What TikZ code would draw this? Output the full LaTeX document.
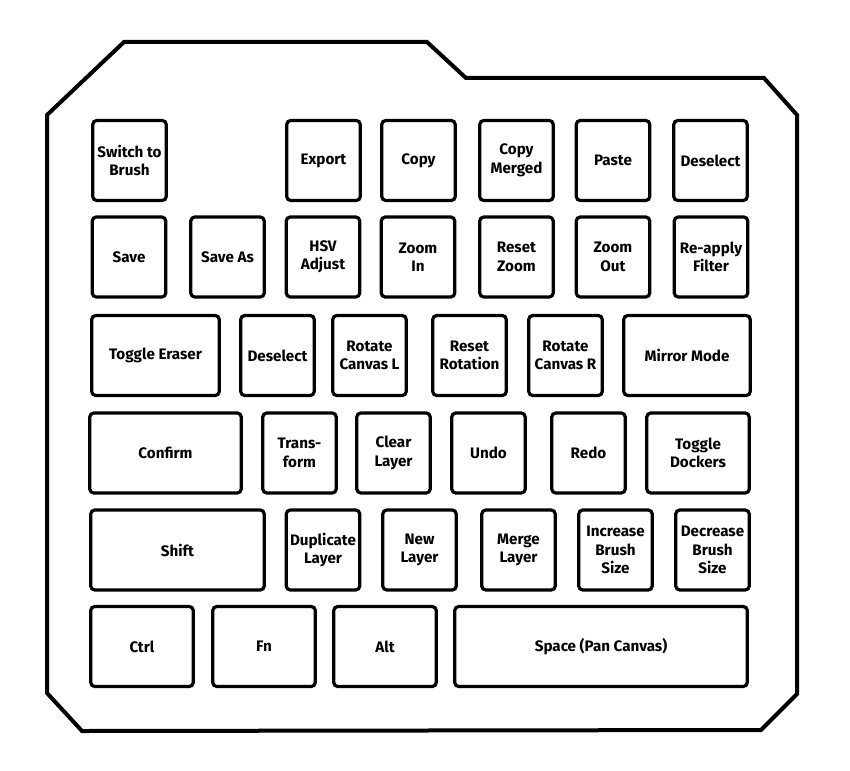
\documentclass[tikz,border=0pt]{standalone}
\usepackage{fontspec}
\setmainfont{Fira Sans}
\usepackage{tikz}
\usetikzlibrary{positioning}

\begin{document}
\begin{tikzpicture}[
  x=1pt, y=-1pt,
  font=\fontsize{15.2}{18.5}\selectfont\bfseries,
  keycap/.style={draw=black, line width=3.2pt, rounded corners=4pt, fill=white,
    minimum width=73.5pt, minimum height=80pt, inner sep=0pt, align=center},
  widekey/.style={keycap, minimum width=#1},
  shell/.style={draw=black, line width=4pt, line join=miter}
]
\useasboundingbox (0,0) rectangle (850,770);
\draw[shell] (124,42) -- (427,42) -- (466,78) -- (764,78) -- (797,115) -- (797,694)
  -- (761,730) -- (82,731) -- (47,693) -- (47,115) -- cycle;

\node[keycap] (brush) at (129.5,160.5) {Switch to\\Brush};
\node[keycap] (export) at (323.5,160.5) {Export};
\node[keycap] (copy) at (418.5,160.5) {Copy};
\node[keycap] (copymerged) at (516.5,160.5) {Copy\\Merged};
\node[keycap] (paste) at (613,160.5) {Paste};
\node[keycap] (deselect) at (710.5,160.5) {Deselect};

\node[keycap] (save) at (129,257) {Save};
\node[keycap] (saveas) at (227.5,257) {Save As};
\node[keycap] (hsv) at (323,257) {HSV\\Adjust};
\node[keycap] (zoomin) at (418,257) {Zoom\\In};
\node[keycap] (resetzoom) at (516.5,257) {Reset\\Zoom};
\node[keycap] (zoomout) at (613,257) {Zoom\\Out};
\node[keycap] (reapply) at (711,257) {Re-apply\\Filter};

\node[widekey=127.5pt] (eraser) at (155.5,355.5) {Toggle Eraser};
\node[keycap] (deselecttwo) at (277.5,355.5) {Deselect};
\node[keycap] (rotleft) at (369.5,355.5) {Rotate\\Canvas L};
\node[keycap] (resetrot) at (469.5,355.5) {Reset\\Rotation};
\node[keycap] (rotright) at (565.5,355.5) {Rotate\\Canvas R};
\node[widekey=126.5pt] (mirror) at (687,355.5) {Mirror Mode};

\node[widekey=151.5pt] (confirm) at (165.5,453) {Confirm};
\node[keycap] (transform) at (299.5,453) {Trans-\\form};
\node[keycap] (clearlayer) at (393.5,453) {Clear\\Layer};
\node[keycap] (undo) at (488.5,453) {Undo};
\node[keycap] (redo) at (588.5,453) {Redo};
\node[widekey=102.5pt] (dockers) at (698,453) {Toggle\\Dockers};

\node[widekey=173.5pt] (shift) at (177.5,550) {Shift};
\node[keycap] (duplicate) at (323,550) {Duplicate\\Layer};
\node[keycap] (newlayer) at (419.5,550) {New\\Layer};
\node[keycap] (merge) at (518.5,550) {Merge\\Layer};
\node[keycap] (increase) at (615.5,550) {Increase\\Brush\\Size};
\node[keycap] (decrease) at (712.5,550) {Decrease\\Brush\\Size};

\node[widekey=102.5pt] (ctrl) at (142,646.5) {Ctrl};
\node[widekey=102.5pt] (fn) at (264,646.5) {Fn};
\node[widekey=102.5pt] (alt) at (385,646.5) {Alt};
\node[widekey=292.5pt] (space) at (601,646.5) {Space (Pan Canvas)};
\end{tikzpicture}
\end{document}
